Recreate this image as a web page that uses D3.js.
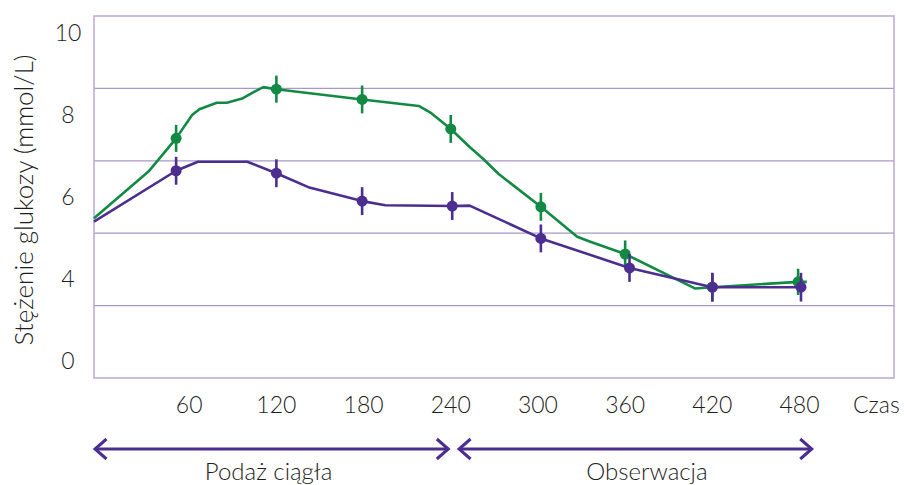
<!DOCTYPE html>
<html>
<head>
<meta charset="utf-8">
<script src="https://cdn.jsdelivr.net/npm/d3@7"></script>
<style>
  html, body { margin: 0; padding: 0; background: #fff; }
  svg { display: block; font-family: Lato, "Open Sans", sans-serif; font-weight: 300; }
</style>
</head>
<body>
<svg id="chart" width="904" height="485"></svg>
<script>
// time (min) / glucose (mmol/L)
const greenLineTimes = [-5.5, 32, 51, 62, 67, 79, 86, 97, 105, 111, 120, 179, 218, 226, 240, 253, 262, 273, 302, 327, 336, 360, 408, 420, 479, 485];
const greenLineValues = [5.48, 6.62, 7.43, 8.0, 8.14, 8.3, 8.3, 8.41, 8.57, 8.68, 8.63, 8.38, 8.22, 8.06, 7.66, 7.22, 6.94, 6.56, 5.76, 5.03, 4.91, 4.61, 3.77, 3.8, 3.93, 3.93];
const greenMarkTimes = [51, 120, 179, 240, 302, 360, 420, 479];
const greenMarkValues = [7.43, 8.63, 8.38, 7.66, 5.76, 4.61, 3.8, 3.93];
const greenMarkErr = [0.33, 0.33, 0.34, 0.34, 0.34, 0.33, 0.35, 0.32];

const purpleLineTimes = [-5.5, 51, 66, 100, 120, 142, 179, 195, 241, 253, 302, 363, 420, 481];
const purpleLineValues = [5.40, 6.64, 6.86, 6.86, 6.58, 6.24, 5.90, 5.80, 5.78, 5.79, 4.99, 4.27, 3.80, 3.80];
const purpleMarkTimes = [51, 120, 179, 241, 302, 363, 420, 481];
const purpleMarkValues = [6.64, 6.58, 5.90, 5.78, 4.99, 4.27, 3.80, 3.80];
const purpleMarkErr = [0.34, 0.34, 0.34, 0.34, 0.34, 0.34, 0.35, 0.35];

const xTicks = [60, 120, 180, 240, 300, 360, 420, 480];
// the axis is broken: the "0" label sits where 2 would be
const yTickAt = [10, 8, 6, 4, 2];
const yTickLabels = ['10', '8', '6', '4', '0'];
const phaseNames = ['Podaż ciągła', 'Obserwacja'];
const phaseStart = [-4.8, 245.7];
const phaseEnd = [238.3, 488.4];
const phaseLabelAt = [114.6, 375];

const green = '#138a43';
const purple = '#4b2e90';
const frameColor = '#b9a8d8';
const gridColor = '#a898c9';
const textColor = '#1e1e1e';

const svg = d3.select('#chart');

const frame = { left: 94, right: 894, top: 16, bottom: 378 };

const x = d3.scaleLinear().domain([-5.5, 545]).range([frame.left, frame.right]);
const y = d3.scaleLinear().domain([4, 10]).range([279, 33]);

// horizontal grid lines split the frame into five bands
const bands = 5;
const bandH = (frame.bottom - frame.top) / bands;
svg.append('g')
  .selectAll('line')
  .data(d3.range(1, bands))
  .enter()
  .append('line')
  .attr('x1', frame.left)
  .attr('x2', frame.right)
  .attr('y1', (d) => frame.top + d * bandH)
  .attr('y2', (d) => frame.top + d * bandH)
  .attr('stroke', gridColor)
  .attr('stroke-width', 1.2);

svg.append('rect')
  .attr('x', frame.left)
  .attr('y', frame.top)
  .attr('width', frame.right - frame.left)
  .attr('height', frame.bottom - frame.top)
  .attr('fill', 'none')
  .attr('stroke', frameColor)
  .attr('stroke-width', 1.5);

// y tick labels
svg.append('g')
  .selectAll('text')
  .data(yTickAt)
  .enter()
  .append('text')
  .attr('x', 68)
  .attr('y', (d) => y(d))
  .attr('dy', '0.36em')
  .attr('text-anchor', 'middle')
  .attr('font-size', 23)
  .attr('fill', textColor)
  .text((d, i) => yTickLabels[i]);

// x tick labels
svg.append('g')
  .selectAll('text')
  .data(xTicks)
  .enter()
  .append('text')
  .attr('x', (d) => x(d))
  .attr('y', 413)
  .attr('text-anchor', 'middle')
  .attr('font-size', 23)
  .attr('fill', textColor)
  .text((d) => d);

svg.append('text')
  .attr('x', 853)
  .attr('y', 413)
  .attr('font-size', 23)
  .attr('fill', textColor)
  .text('Czas');

svg.append('text')
  .attr('transform', 'translate(33,200) rotate(-90)')
  .attr('text-anchor', 'middle')
  .attr('font-size', 26)
  .attr('fill', textColor)
  .text('Stężenie glukozy (mmol/L)');

// phase arrows
const arrowY = 449;
const phases = phaseNames.map((name, i) => ({ name, start: phaseStart[i], end: phaseEnd[i], at: phaseLabelAt[i] }));
const ph = svg.append('g').selectAll('g').data(phases).enter().append('g');
ph.append('line')
  .attr('x1', (d) => x(d.start))
  .attr('x2', (d) => x(d.end))
  .attr('y1', arrowY)
  .attr('y2', arrowY)
  .attr('stroke', purple)
  .attr('stroke-width', 3);
ph.append('path')
  .attr('d', (d) => `M${x(d.start) + 11.5},${arrowY - 10}L${x(d.start)},${arrowY}L${x(d.start) + 11.5},${arrowY + 10}`)
  .attr('fill', 'none')
  .attr('stroke', purple)
  .attr('stroke-width', 3);
ph.append('path')
  .attr('d', (d) => `M${x(d.end) - 11.5},${arrowY - 10}L${x(d.end)},${arrowY}L${x(d.end) - 11.5},${arrowY + 10}`)
  .attr('fill', 'none')
  .attr('stroke', purple)
  .attr('stroke-width', 3);
ph.append('text')
  .attr('x', (d) => x(d.at))
  .attr('y', 480)
  .attr('text-anchor', 'middle')
  .attr('font-size', 24)
  .attr('fill', textColor)
  .text((d) => d.name);

const line = d3.line().x((d) => x(d[0])).y((d) => y(d[1]));

function drawSeries(lineT, lineV, markT, markV, err, color) {
  svg.append('path')
    .datum(lineT.map((t, i) => [t, lineV[i]]))
    .attr('d', line)
    .attr('fill', 'none')
    .attr('stroke', color)
    .attr('stroke-width', 2.6)
    .attr('stroke-linejoin', 'round');

  const pts = markT.map((t, i) => ({ t, v: markV[i], e: err[i] }));
  const g = svg.append('g');
  g.selectAll('line')
    .data(pts)
    .enter()
    .append('line')
    .attr('x1', (d) => x(d.t))
    .attr('x2', (d) => x(d.t))
    .attr('y1', (d) => y(d.v - d.e))
    .attr('y2', (d) => y(d.v + d.e))
    .attr('stroke', color)
    .attr('stroke-width', 2.6);
  g.selectAll('circle')
    .data(pts)
    .enter()
    .append('circle')
    .attr('cx', (d) => x(d.t))
    .attr('cy', (d) => y(d.v))
    .attr('r', 5.5)
    .attr('fill', color);
}

drawSeries(greenLineTimes, greenLineValues, greenMarkTimes, greenMarkValues, greenMarkErr, green);
drawSeries(purpleLineTimes, purpleLineValues, purpleMarkTimes, purpleMarkValues, purpleMarkErr, purple);
</script>
</body>
</html>
